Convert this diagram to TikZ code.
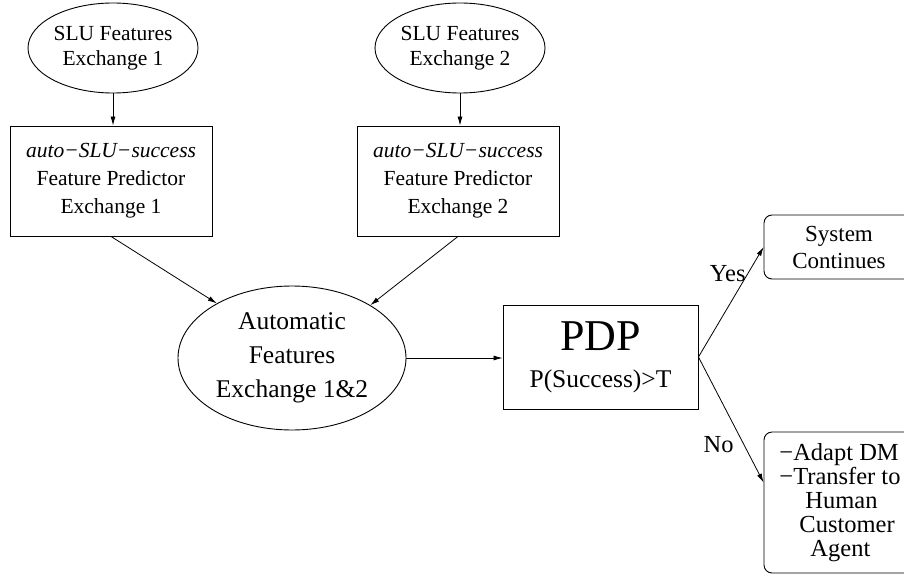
\documentclass[tikz,border=0pt]{standalone}
\usepackage{fontspec}
\setmainfont{Liberation Serif}
\usetikzlibrary{shapes.geometric,arrows.meta}
\begin{document}
\begin{tikzpicture}[x=1pt,y=-1pt,
  ell/.style={draw, ellipse, inner sep=0pt, align=center, line width=0.9pt},
  rbox/.style={draw, rectangle, inner sep=0pt, align=center, line width=0.9pt},
  rnd/.style={draw, rectangle, rounded corners=8pt, inner sep=0pt, line width=0.9pt},
  arr/.style={-{Latex[length=9pt,width=5pt]}, line width=0.8pt},
  smalltxt/.style={font=\fontsize{21.5}{25}\selectfont},
  bigtxt/.style={font=\fontsize{25.5}{34}\selectfont},
  lbl/.style={font=\fontsize{24.5}{28}\selectfont, inner sep=2pt}]
\useasboundingbox (0,0) rectangle (904,583);
\clip (0,0) rectangle (904,583);
\node[ell, smalltxt, minimum width=170pt, minimum height=90pt] (e1) at (113,48) {SLU Features\\Exchange 1};
\node[ell, smalltxt, minimum width=170pt, minimum height=90pt] (e2) at (460,48) {SLU Features\\Exchange 2};
\node[rbox, font=\fontsize{21.5}{28}\selectfont, minimum width=202pt, minimum height=110pt] (b1) at (111,181) {\textit{auto−SLU−success}\\Feature Predictor\\Exchange 1};
\node[rbox, font=\fontsize{21.5}{28}\selectfont, minimum width=202pt, minimum height=110pt] (b2) at (458,181) {\textit{auto−SLU−success}\\Feature Predictor\\Exchange 2};
\node[ell, bigtxt, minimum width=228pt, minimum height=144pt] (big) at (292,358) {Automatic\\Features\\Exchange 1\&2};
\node[rbox, minimum width=195pt, minimum height=104pt] (pdp) at (600.5,357) {{\fontsize{44}{44}\selectfont PDP}\\[18pt]{\fontsize{25.5}{30}\selectfont P(Success)>T}};
\node[rnd, align=center, font=\fontsize{23}{27}\selectfont, minimum width=150pt, minimum height=64pt] (sys) at (839,247) {System\\Continues};
\node[rnd, align=left, font=\fontsize{24.5}{24}\selectfont, minimum width=152pt, minimum height=141pt] (act) at (840,502.5) {−Adapt DM\\−Transfer to\\\hspace*{26pt}Human\\\hspace*{20pt}Customer\\\hspace*{31pt}Agent};
\draw[arr] (e1.south) -- (e1.south |- b1.north);
\draw[arr] (e2.south) -- (e2.south |- b2.north);
\draw[arr] (b1.south) -- (big.144);
\draw[arr] (b2.south) -- (big.34);
\draw[arr] (big.east) -- (big.east -| pdp.west);
\draw[arr] (pdp.east) -- (sys.west) node[lbl, pos=0.76, left] {Yes};
\draw[arr] (pdp.east) -- ([yshift=20pt]act.west) node[lbl, pos=0.70, left, xshift=-8pt] {No};
\end{tikzpicture}
\end{document}
